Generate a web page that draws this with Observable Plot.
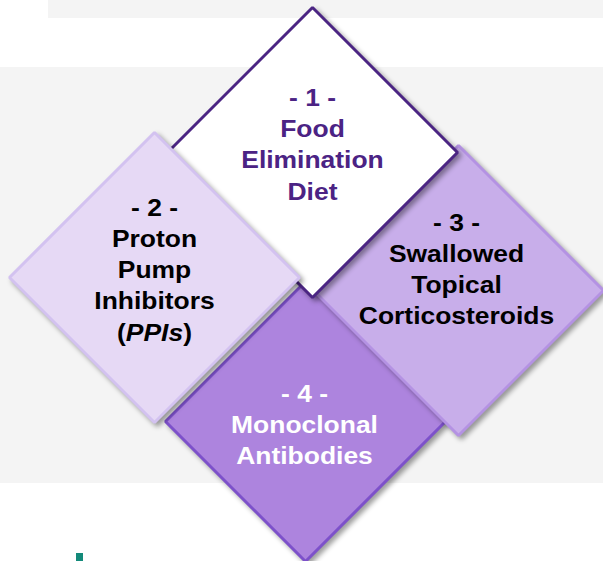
<!DOCTYPE html>
<html><head><meta charset="utf-8">
<script src="https://cdn.jsdelivr.net/npm/d3@7"></script>
<script src="https://cdn.jsdelivr.net/npm/@observablehq/plot@0.6"></script>
<style>html,body{margin:0;padding:0;background:#fff;overflow:hidden;}</style>
</head><body><div id="chart"></div>
<script>
// ---- data ----
const stepNumbers = [1, 2, 3, 4];
const stepLabels = [
  "Food\nElimination\nDiet",
  "Proton\nPump\nInhibitors\n(PPIs)",
  "Swallowed\nTopical\nCorticosteroids",
  "Monoclonal\nAntibodies"
];
const centerX = [312, 154, 458, 305];
const centerY = [152, 277, 290, 421];
const halfSize = [145, 145, 145, 140];
const labelX = [312, 154, 456, 304];
const labelY = [142.5, 268, 267, 423];
const drawOrder = [3, 2, 0, 1];

// background bands
const bandX1 = [48, 0, 76];
const bandX2 = [603, 603, 83];
const bandY1 = [0, 67, 553];
const bandY2 = [18, 483, 561];

// ---- styles ----
const fills = ["#ffffff", "#e6d9f5", "#c8aeea", "#ad84de"];
const strokes = ["#4b2583", "#d3c2f0", "#b492e3", "#7d51ca"];
const textColors = ["#4b2384", "#000000", "#000000", "#ffffff"];
const bandColors = ["#f4f4f4", "#f4f4f4", "#138a7a"];

const bands = bandX1.map((x1, i) => ({x1, x2: bandX2[i], y1: bandY1[i], y2: bandY2[i], c: bandColors[i]}));

function vertices(i) {
  const cx = centerX[i], cy = centerY[i], h = halfSize[i];
  return [
    {x: cx, y: cy - h},
    {x: cx + h, y: cy},
    {x: cx, y: cy + h},
    {x: cx - h, y: cy}
  ];
}

const diamondMarks = drawOrder.map(i =>
  Plot.line(vertices(i), {
    x: "x", y: "y", curve: "linear-closed",
    fill: fills[i], stroke: strokes[i], strokeWidth: 3, strokeLinejoin: "miter"
  })
);

const labels = stepNumbers.map((n, i) => ({
  x: labelX[i], y: labelY[i], text: `- ${n} -\n${stepLabels[i]}`, c: textColors[i]
}));

const svg = Plot.plot({
  width: 603, height: 561,
  margin: 0,
  x: {domain: [0, 603], range: [0, 603], axis: null},
  y: {domain: [0, 561], range: [0, 561], axis: null},
  color: {type: "identity"},
  style: {background: "#ffffff"},
  marks: [
    Plot.rect(bands, {x1: "x1", x2: "x2", y1: "y1", y2: "y2", fill: "c"}),
    ...diamondMarks,
    Plot.text(labels, {
      x: "x", y: "y", text: "text", fill: "c",
      fontSize: 23, fontWeight: "bold",
      fontFamily: "'Liberation Sans', Arial, sans-serif",
      lineHeight: 1.35, lineAnchor: "middle", textAnchor: "middle"
    })
  ]
});

// drop shadows on diamonds
d3.select(svg).selectAll('g[aria-label="line"] path')
  .style("filter", "drop-shadow(3px 3px 2.5px rgba(0,0,0,0.38))");

// horizontal stretch of labels to match the reference lettering
d3.select(svg).selectAll('g[aria-label="text"] text').each(function() {
  const t = this.getAttribute("transform");
  if (t) this.setAttribute("transform", t + " scale(1.15,1)");
  else {
    const x = +this.getAttribute("x") || 0, y = +this.getAttribute("y") || 0;
    this.setAttribute("transform", `translate(${x},${y}) scale(1.15,1) translate(${-x},${-y})`);
  }
});

// italic "PPIs"
d3.select(svg).selectAll("tspan").each(function() {
  if (this.textContent === "(PPIs)") {
    this.textContent = "(";
    const it = document.createElementNS("http://www.w3.org/2000/svg", "tspan");
    it.setAttribute("font-style", "italic");
    it.textContent = "PPIs";
    this.appendChild(it);
    this.appendChild(document.createTextNode(")"));
  }
});

document.getElementById("chart").appendChild(svg);
</script>
</body></html>
